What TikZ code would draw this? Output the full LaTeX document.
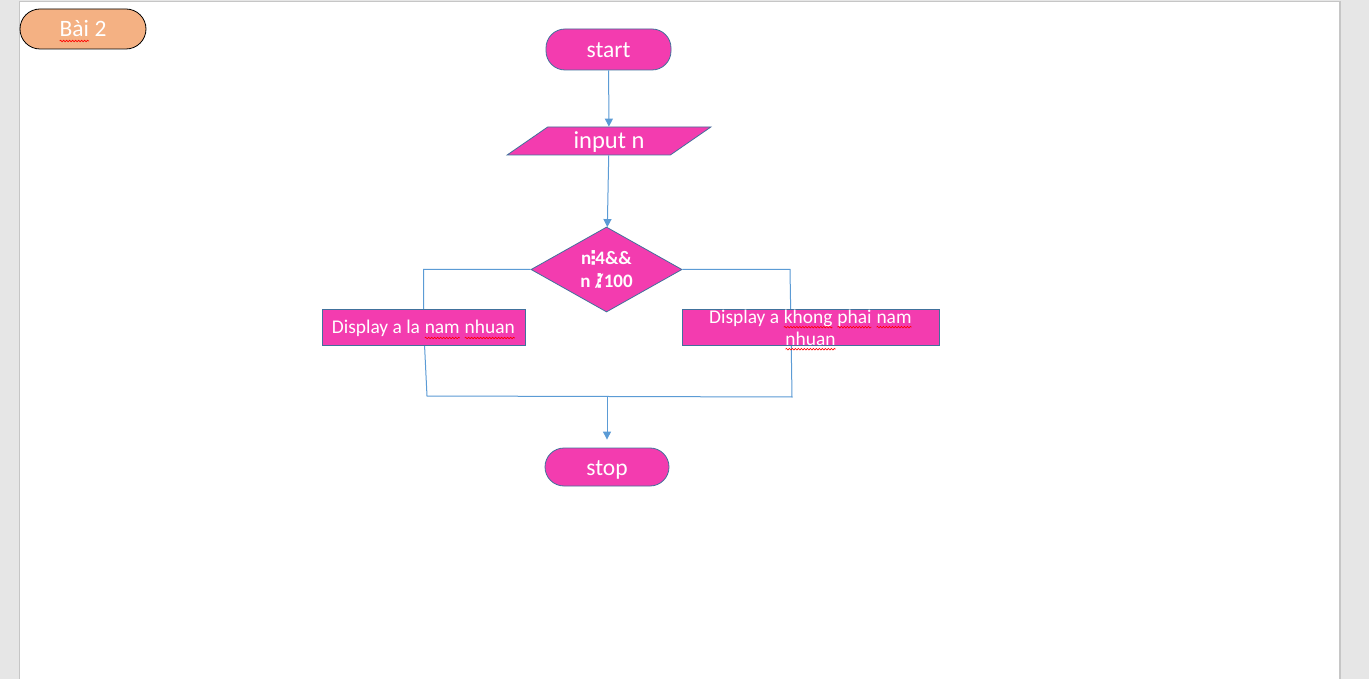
\documentclass[tikz,border=0pt]{standalone}
\usepackage{fontspec}
\setmainfont{Carlito}
\newfontfamily\dvfont{DejaVu Sans}
\usetikzlibrary{shapes.geometric,arrows.meta,decorations.pathmorphing}
\definecolor{pinkfill}{HTML}{F33CAF}
\definecolor{shapeline}{HTML}{41719C}
\definecolor{connblue}{HTML}{5B9BD5}
\definecolor{peach}{HTML}{F4B183}
\definecolor{pagegray}{HTML}{E6E6E6}
\definecolor{pageborder}{HTML}{C6C6C6}
\newcommand\rw[1]{\tikz[baseline=(w.base),x=1pt,y=1pt,sharp corners]{%
  \node[draw=none,fill=none,shape=rectangle,minimum width=0pt,minimum height=0pt,
    inner sep=0pt,outer sep=0pt,text height=,text depth=] (w) {#1};
  \draw[red,line width=0.6pt,sharp corners,decorate,decoration={snake,amplitude=0.8pt,segment length=3pt}]
    ([yshift=-4pt]w.base west) -- ([yshift=-4pt]w.base east);}}
\newcommand\dvd{\makebox[4pt][c]{\dvfont\bfseries ⋮}}
\newcommand\ndvd{\makebox[9pt][c]{\dvfont\bfseries ⋮}\kern-9pt\makebox[9pt][c]{/}}
\tikzset{
  fc/.style={fill=pinkfill, draw=shapeline, line width=0.8pt, text=white, inner sep=0pt},
  term/.style={fc, rectangle, rounded corners=19pt, font=\fontsize{23.5}{27}\selectfont,
    text height=16pt, text depth=0pt},
  procbox/.style={fc, rectangle, font=\fontsize{19.4}{22}\selectfont, align=center},
  conn/.style={connblue, line width=1pt},
  arr/.style={conn, -{Triangle[width=8pt,length=8pt]}}
}
\begin{document}
\begin{tikzpicture}[x=1pt,y=-1pt]
\useasboundingbox (0,0) rectangle (1369,679);
\fill[pagegray] (0,0) rectangle (1369,679);
\fill[white] (19,1) rectangle (1340,690);
\draw[pageborder, line width=1.2pt] (19.5,700) -- (19.5,1.5) -- (1340,1.5) -- (1340,700);

\node[rectangle, rounded corners=20pt, fill=peach, draw=black, line width=0.8pt, text=white,
  minimum width=126pt, minimum height=40pt, inner sep=0pt, font=\fontsize{23.5}{27}\selectfont,
  text height=16pt, text depth=0pt]
  (bai) at (83,29) {\rw{Bài} 2};

\node[term, minimum width=125pt, minimum height=41pt] (start) at (608.5,49.5) {start};

\node[fc, trapezium, trapezium left angle=34.33, trapezium right angle=145.67,
  trapezium stretches=true, minimum width=204pt, minimum height=28pt,
  font=\fontsize{24.5}{27}\selectfont, text height=16pt, text depth=0pt] (input) at (609,141) {input n};

\node[fc, diamond, aspect=1.78, minimum width=151pt, minimum height=85pt,
  font=\fontsize{19}{23}\selectfont\bfseries, align=center] (dia) at (606.5,269.5)
  {n\dvd4\&\&\\n \ndvd100};

\coordinate (lt) at (423.5,269.5);
\coordinate (lb) at (427,396);
\coordinate (rt) at (790,269.5);
\coordinate (rb) at (792,397);
\coordinate (m) at (607,397);

\draw[conn] (dia.west) -- (lt) -- (423.8,330);
\draw[conn] (423.8,330) -- (lb) -- (rb) -- (791,330);
\draw[conn] (dia.east) -- (rt) -- (791,330);

\node[procbox, minimum width=203pt, minimum height=36pt, text height=19pt, text depth=5pt]
  (lbox) at (423.5,327) {Display a la \rw{nam} \rw{nhuan}};
\node[procbox, minimum width=257pt, minimum height=36pt] (rbox) at (810.5,327) {};
\node[procbox, draw=none, fill=none] (rtext) at (810.5,330)
  {Display a \rw{khong} \rw{phai} \rw{nam}\\\rw{nhuan}};

\node[term, minimum width=124pt, minimum height=38pt] (stop) at (607,467) {stop};

\draw[arr] (start) -- (input);
\draw[arr] (input) -- (dia);
\draw[arr, shorten >=8pt] (m) -- (stop);
\end{tikzpicture}
\end{document}
